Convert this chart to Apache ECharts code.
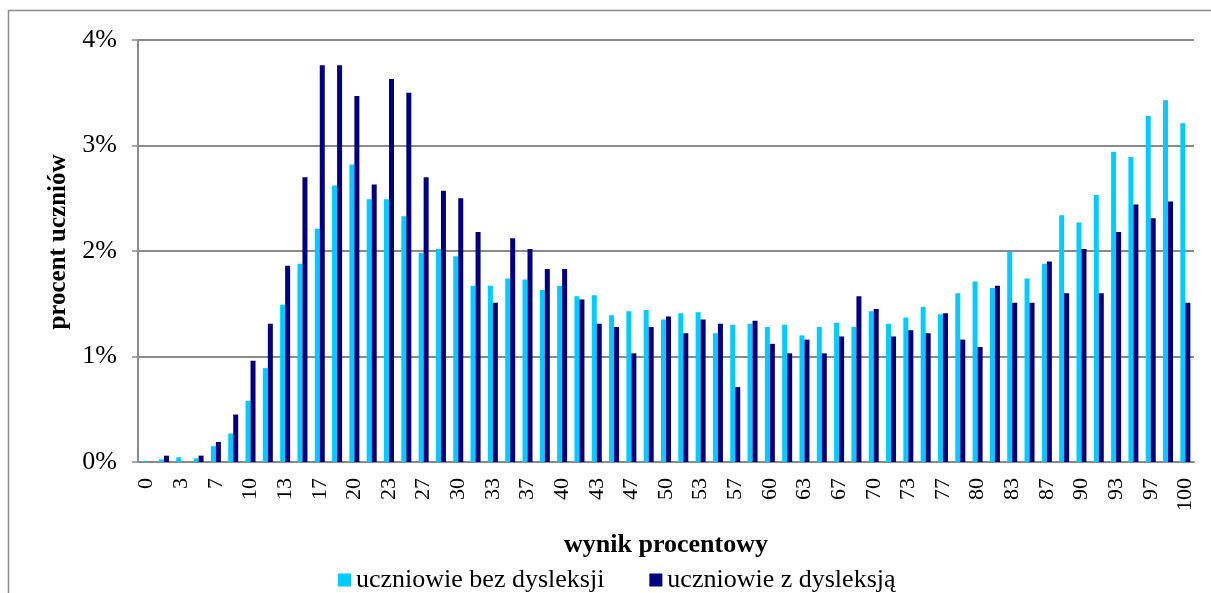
<!DOCTYPE html>
<html>
<head>
<meta charset="utf-8">
<script src="https://cdn.jsdelivr.net/npm/echarts@6/dist/echarts.min.js"></script>
<style>
  html, body { margin: 0; padding: 0; background: #fff; }
  #chart { width: 1211px; height: 593px; }
</style>
</head>
<body>
<div id="chart"></div>
<script>
// wynik procentowy: 61 kategorii (0..60 pkt przeliczone na %)
var categories = [];
for (var i = 0; i <= 60; i++) {
    categories.push(String(Math.round(i * 100 / 60)));
}

// procent uczniów bez dysleksji
var bezDysleksji = [
    0.01, 0.025, 0.045, 0.035, 0.15, 0.27, 0.58, 0.89, 1.49, 1.88,
    2.21, 2.62, 2.82, 2.49, 2.49, 2.33, 1.98, 2.02, 1.95, 1.67,
    1.67, 1.74, 1.73, 1.63, 1.67, 1.57, 1.58, 1.39, 1.43, 1.44,
    1.35, 1.41, 1.42, 1.22, 1.30, 1.31, 1.28, 1.30, 1.20, 1.28,
    1.32, 1.28, 1.43, 1.31, 1.37, 1.47, 1.40, 1.60, 1.71, 1.65,
    1.99, 1.74, 1.88, 2.34, 2.27, 2.53, 2.94, 2.89, 3.28, 3.43,
    3.21
];

// procent uczniów z dysleksją
var zDysleksja = [
    0, 0.06, 0, 0.06, 0.19, 0.45, 0.96, 1.31, 1.86, 2.70,
    3.76, 3.76, 3.47, 2.63, 3.63, 3.50, 2.70, 2.57, 2.50, 2.18,
    1.51, 2.12, 2.02, 1.83, 1.83, 1.54, 1.31, 1.28, 1.03, 1.28,
    1.38, 1.22, 1.35, 1.31, 0.71, 1.34, 1.12, 1.03, 1.16, 1.03,
    1.19, 1.57, 1.45, 1.19, 1.25, 1.22, 1.41, 1.16, 1.09, 1.67,
    1.51, 1.51, 1.90, 1.60, 2.02, 1.60, 2.18, 2.44, 2.31, 2.47,
    1.51
];

var yTicks = [0, 1, 2, 3, 4];

var font = 'Liberation Serif, Times New Roman, serif';

var chart = echarts.init(document.getElementById('chart'));

var option = {
    backgroundColor: '#fff',
    animation: false,
    textStyle: { fontFamily: font, color: '#000' },
    graphic: [
        {
            type: 'polyline',
            shape: { points: [[8.5, 593], [8.5, 10.5], [1211, 10.5]] },
            style: { stroke: '#8a8a8a', lineWidth: 1.5, fill: null }
        }
    ],
    legend: {
        left: 333,
        top: 562,
        icon: 'rect',
        itemWidth: 13,
        itemHeight: 13,
        itemGap: 45,
        textStyle: { fontFamily: font, fontSize: 26, color: '#000' },
        data: ['uczniowie bez dysleksji', 'uczniowie z dysleksją']
    },
    grid: {
        left: 138,
        right: 17,
        top: 40,
        bottom: 131
    },
    xAxis: {
        type: 'category',
        data: categories,
        name: 'wynik procentowy',
        nameLocation: 'middle',
        nameGap: 70,
        nameTextStyle: { fontFamily: font, fontSize: 26, fontWeight: 'bold', color: '#000' },
        axisLine: { lineStyle: { color: '#8a8a8a', width: 2 } },
        axisTick: { show: false },
        axisLabel: {
            interval: 1,
            rotate: 90,
            margin: 16,
            fontFamily: font,
            fontSize: 22,
            color: '#000'
        }
    },
    yAxis: {
        type: 'value',
        min: 0,
        max: 4,
        interval: 1,
        name: 'procent uczniów',
        nameLocation: 'middle',
        nameGap: 58,
        nameTextStyle: {
            fontFamily: font,
            fontSize: 25,
            fontWeight: 'bold',
            color: '#000',
            padding: [0, 0, 0, 18]
        },
        axisLine: { show: true, lineStyle: { color: '#8a8a8a', width: 2 } },
        axisTick: { show: true, length: 6, lineStyle: { color: '#8a8a8a', width: 1.5 } },
        axisLabel: {
            margin: 21,
            fontFamily: font,
            fontSize: 26,
            color: '#000',
            formatter: function (v) { return yTicks.indexOf(v) >= 0 ? v + '%' : ''; }
        },
        splitLine: { lineStyle: { color: '#8a8a8a', width: 2 } }
    },
    series: [
        {
            name: 'uczniowie bez dysleksji',
            type: 'bar',
            barWidth: 5,
            barGap: '0%',
            itemStyle: { color: '#00CCFF' },
            data: bezDysleksji
        },
        {
            name: 'uczniowie z dysleksją',
            type: 'bar',
            barWidth: 5,
            barGap: '0%',
            itemStyle: { color: '#000080' },
            data: zDysleksja
        }
    ]
};

chart.setOption(option);
</script>
</body>
</html>
